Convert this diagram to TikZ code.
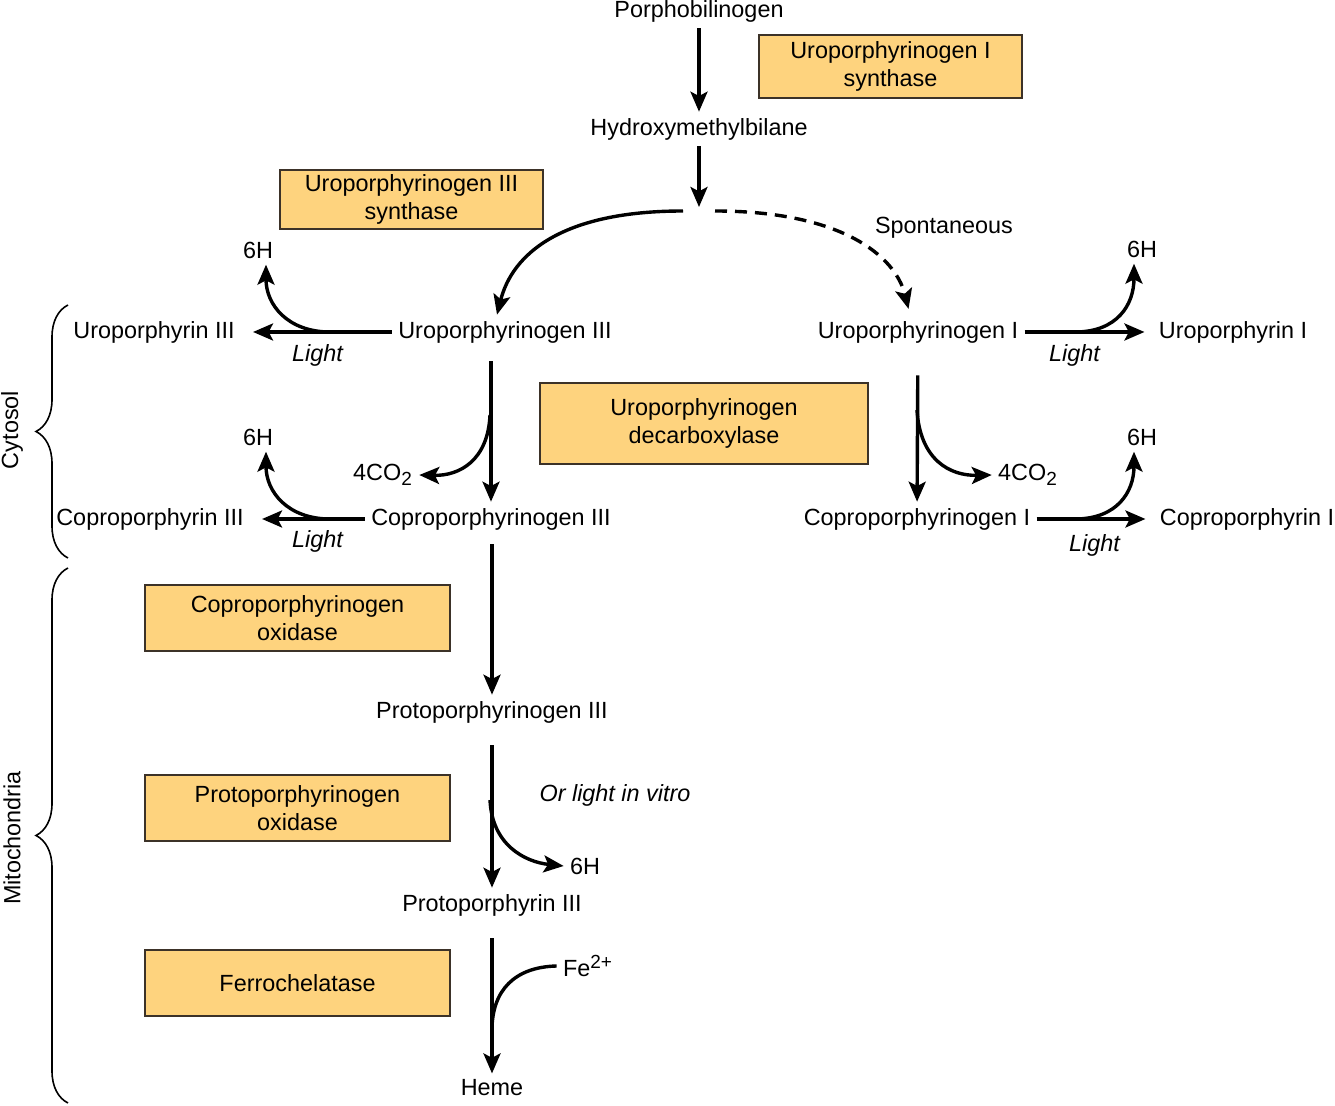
\documentclass[tikz,border=0pt]{standalone}
\usepackage{fontspec}
\setmainfont{Liberation Sans}
\usepackage{tikz}
\usetikzlibrary{positioning,arrows.meta,decorations.pathreplacing,calc}
\definecolor{enzfill}{RGB}{254,211,126}
\definecolor{enzline}{RGB}{60,50,40}

\begin{document}
\begin{tikzpicture}[x=0.5pt,y=-0.5pt,
  every node/.style={font=\fontsize{11.7}{14}\selectfont},
  chem/.style={inner sep=3pt},
  enzyme/.style={draw=enzline,line width=0.7pt,fill=enzfill,align=center,inner sep=0pt},
  rxn/.style={line width=1.7pt,-{Stealth[length=10pt,width=8.5pt,inset=2.2pt]}},
  side/.style={line width=1.7pt},
  region/.style={decorate,decoration={brace,amplitude=16pt},line width=0.8pt}]
  \useasboundingbox (0,0) rectangle (1335,1106);

  % main chain
  \node[chem] (pbg) at (699,11) {Porphobilinogen};
  \node[chem] (hmb) at (699,129) {Hydroxymethylbilane};
  \node[chem] (urogen3) at (505,332) {Uroporphyrinogen III};
  \node[chem] (urogen1) at (918,332) {Uroporphyrinogen I};
  \node[chem] (uro3) at (154,332) {Uroporphyrin III};
  \node[chem] (uro1) at (1233,332) {Uroporphyrin I};
  \node[chem] (copgen3) at (491,519) {Coproporphyrinogen III};
  \node[chem] (copgen1) at (917,519) {Coproporphyrinogen I};
  \node[chem] (cop3) at (150,519) {Coproporphyrin III};
  \node[chem] (cop1) at (1247,519) {Coproporphyrin I};
  \node[chem] (protogen) at (492,712) {Protoporphyrinogen III};
  \node[chem] (proto) at (492,905) {Protoporphyrin III};
  \node[chem] (heme) at (492,1088) {Heme};

  % side products
  \node[chem] (h6a) at (258,250) {6H};
  \node[chem] (h6b) at (1142,249) {6H};
  \node[chem] (h6c) at (258,437) {6H};
  \node[chem] (h6d) at (1142,437) {6H};
  \node[chem] (co2a) at (383,475) {4CO\textsubscript{\fontsize{9.5}{10}\selectfont 2}};
  \node[chem] (co2b) at (1028,475) {4CO\textsubscript{\fontsize{9.5}{10}\selectfont 2}};
  \node[chem] (h6e) at (585,866) {6H};
  \node[chem] (fe) at (588,966) {Fe\textsuperscript{\fontsize{9.5}{10}\selectfont 2+}};

  % labels
  \node (spont) at (944,228) {Spontaneous};
  \node (lt1) at (318,355) {\textit{Light}};
  \node (lt2) at (1075,355) {\textit{Light}};
  \node (lt3) at (318,541) {\textit{Light}};
  \node (lt4) at (1095,545) {\textit{Light}};
  \node (vitro) at (615,795) {\textit{Or light in vitro}};
  \node[rotate=90] (cyto) at (12,430) {Cytosol};
  \node[rotate=90] (mito) at (12,838) {Mitochondria};

  % enzymes
  \node[enzyme,minimum width=131.5pt,minimum height=31.5pt] (ups1) at (890.5,66.5) {Uroporphyrinogen I\\synthase};
  \node[enzyme,minimum width=131.5pt,minimum height=29.5pt] (ups3) at (411.5,199.5) {Uroporphyrinogen III\\synthase};
  \node[enzyme,minimum width=164pt,minimum height=40.5pt] (urod) at (704,423.5) {Uroporphyrinogen\\decarboxylase};
  \foreach \y/\nm/\txt in {618/cpox/{Coproporphyrinogen\\oxidase},808/ppox/{Protoporphyrinogen\\oxidase},983/fech/{Ferrochelatase}} {
  \node[enzyme,minimum width=152.5pt,minimum height=33pt] (\nm) at (297.5,\y) {\txt};
  }

  % braces
  \draw[region] (68,558) -- (68,305);
  \draw[region] (68,1103) -- (68,568);

  % arrows
  \coordinate (fork) at (699,211);
  \coordinate (forkl) at (683,211);
  \coordinate (forkr) at (715,211);
  \draw[rxn] (pbg) -- (hmb);
  \draw[rxn,shorten >=2pt] (hmb) -- (fork);
  \draw[rxn] (forkl) .. controls (560,211) and (512,255) .. ([xshift=-4pt]urogen3.north);
  \draw[rxn,dash pattern=on 6pt off 4pt,shorten >=3pt] (forkr) .. controls (840,211) and (895,255) .. ([xshift=-4pt]urogen1.north);

  \draw[rxn,shorten >=6pt] (urogen3) -- (uro3);
  \draw[rxn,shorten >=4pt] (urogen1) -- (uro1);
  \draw[rxn,shorten >=6pt] (copgen3) -- (cop3);
  \draw[rxn,shorten >=4pt] (copgen1) -- (cop1);

  \coordinate (b1) at (330,332);
  \coordinate (b2) at (1075,332);
  \coordinate (b3) at (330,519);
  \coordinate (b4) at (1075,519);
  \draw[rxn] (b1) .. controls (288,332) and (266,305) .. ([xshift=4pt]h6a.south);
  \draw[rxn] (b2) .. controls (1117,332) and (1134,305) .. ([xshift=-4pt]h6b.south);
  \draw[rxn] (b3) .. controls (288,519) and (266,492) .. ([xshift=4pt]h6c.south);
  \draw[rxn] (b4) .. controls (1117,519) and (1134,492) .. ([xshift=-4pt]h6d.south);

  \draw[rxn,shorten <=6pt] (copgen3.north |- urogen3.south) -- (copgen3);
  \draw[rxn,shorten <=13pt] (urogen1) -- (copgen1);
  \coordinate (d1) at (490,415);
  \coordinate (d2) at (917,410);
  \draw[rxn] (d1) .. controls (488,460) and (460,476) .. (co2a.east);
  \draw[rxn] (d2) .. controls (920,460) and (950,476) .. (co2b.west);

  \draw[rxn,shorten <=4pt] (copgen3.south -| protogen.north) -- (protogen);
  \draw[rxn,shorten <=8pt] (protogen) -- (proto);
  \coordinate (d3) at (490,800);
  \draw[rxn] (d3) .. controls (492,845) and (525,862) .. (h6e.west);
  \draw[rxn,shorten <=8pt] (proto) -- (heme);
  \coordinate (join) at (492,1030);
  \draw[side] (fe.west) .. controls (515,967) and (492,990) .. (join);
\end{tikzpicture}
\end{document}
